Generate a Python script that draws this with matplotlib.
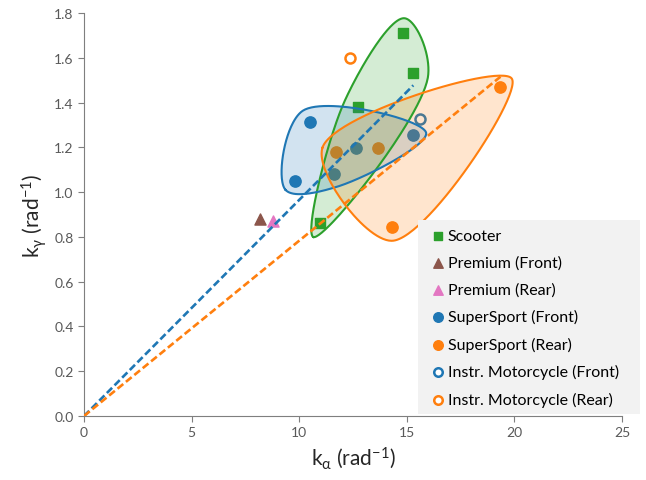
import numpy as np
import matplotlib
matplotlib.use("Agg")
import matplotlib.pyplot as plt
from matplotlib.patches import Rectangle

plt.rcParams['font.family'] = ['Lato', 'DejaVu Sans']
plt.rcParams['mathtext.fontset'] = 'dejavusans'
plt.rcParams['mathtext.default'] = 'regular'

# data (k_alpha, k_gamma)
scooter_x = [14.8, 15.3, 12.75, 10.95]
scooter_y = [1.71, 1.53, 1.38, 0.86]
prem_front_x = [8.2]
prem_front_y = [0.88]
prem_rear_x = [8.8]
prem_rear_y = [0.87]
ss_front_x = [10.5, 9.8, 11.6, 12.65, 15.3]
ss_front_y = [1.315, 1.05, 1.08, 1.195, 1.255]
ss_rear_x = [11.7, 13.65, 14.3, 19.35]
ss_rear_y = [1.18, 1.195, 0.845, 1.47]
instr_front_x = [15.6]
instr_front_y = [1.325]
instr_rear_x = [12.35]
instr_rear_y = [1.60]

green = '#2ca02c'
brown = '#8c564b'
pink = '#e377c2'
blue = '#1f77b4'
orange = '#ff7f0e'


def hull(pts):
    pts = sorted(map(tuple, pts))
    def cross(o, a, b):
        return (a[0]-o[0])*(b[1]-o[1]) - (a[1]-o[1])*(b[0]-o[0])
    lower, upper = [], []
    for p in pts:
        while len(lower) >= 2 and cross(lower[-2], lower[-1], p) <= 0:
            lower.pop()
        lower.append(p)
    for p in reversed(pts):
        while len(upper) >= 2 and cross(upper[-2], upper[-1], p) <= 0:
            upper.pop()
        upper.append(p)
    return np.array(lower[:-1] + upper[:-1])


def catmull_rom(pts, n=60, alpha=0.5):
    N = len(pts)
    out = []
    for i in range(N):
        p0, p1, p2, p3 = pts[i-1], pts[i], pts[(i+1) % N], pts[(i+2) % N]
        t0 = 0
        t1 = t0 + np.hypot(*(p1-p0))**alpha
        t2 = t1 + np.hypot(*(p2-p1))**alpha
        t3 = t2 + np.hypot(*(p3-p2))**alpha
        t = np.linspace(t1, t2, n, endpoint=False)[:, None]
        a1 = (t1-t)/(t1-t0)*p0 + (t-t0)/(t1-t0)*p1
        a2 = (t2-t)/(t2-t1)*p1 + (t-t1)/(t2-t1)*p2
        a3 = (t3-t)/(t3-t2)*p2 + (t-t2)/(t3-t2)*p3
        b1 = (t2-t)/(t2-t0)*a1 + (t-t0)/(t2-t0)*a2
        b2 = (t3-t)/(t3-t1)*a2 + (t-t1)/(t3-t1)*a3
        out.append((t2-t)/(t2-t1)*b1 + (t-t1)/(t2-t1)*b2)
    return np.vstack(out)


def blob(ax, xs, ys, r, color, alpha=0.5):
    # smooth closed curve through the group's hull corners pushed outwards
    P = ax.transData.transform(np.column_stack([xs, ys]))
    H = hull(P)
    N = len(H)
    ctrl = []
    for i in range(N):
        v, a, c = H[i], H[i-1], H[(i+1) % N]
        u1 = (v-a)/np.hypot(*(v-a))
        u2 = (v-c)/np.hypot(*(v-c))
        d = u1 + u2
        d = d/np.hypot(*d)
        ctrl.append(v + r*d)
    C = catmull_rom(np.array(ctrl), alpha=alpha)
    C = np.vstack([C, C[:1]])
    D = ax.transData.inverted().transform(C)
    ax.fill(D[:, 0], D[:, 1], color=color, alpha=0.2, lw=0, zorder=4)
    ax.plot(D[:, 0], D[:, 1], color=color, lw=1.5, zorder=5)


def fit_line(ax, xs, ys, color):
    xs = np.array(xs); ys = np.array(ys)
    k = np.sum(xs*ys) / np.sum(xs*xs)
    xe = xs.max()
    ax.plot([0, xe], [0, k*xe], color=color, lw=1.9, ls=(0, (2.8, 1.3)), zorder=6)


fig = plt.figure(figsize=(6.46, 4.81), dpi=100)
ax = fig.add_axes([0.130, 0.133, 0.833, 0.838])
ax.set_xlim(0, 25)
ax.set_ylim(0, 1.8)

ax.scatter(scooter_x, scooter_y, marker='s', s=48, color=green, label='Scooter', zorder=3)
ax.scatter(prem_front_x, prem_front_y, marker='^', s=64, color=brown, label='Premium (Front)', zorder=3)
ax.scatter(prem_rear_x, prem_rear_y, marker='^', s=64, color=pink, label='Premium (Rear)', zorder=3)
ax.scatter(ss_front_x, ss_front_y, marker='o', s=66, color=blue, label='SuperSport (Front)', zorder=3)
ax.scatter(ss_rear_x, ss_rear_y, marker='o', s=66, color=orange, label='SuperSport (Rear)', zorder=3)
ax.scatter(instr_front_x, instr_front_y, marker='o', s=52, facecolor='white', edgecolor=blue,
           linewidths=1.8, label='Instr. Motorcycle (Front)', zorder=3)
ax.scatter(instr_rear_x, instr_rear_y, marker='o', s=52, facecolor='white', edgecolor=orange,
           linewidths=1.8, label='Instr. Motorcycle (Rear)', zorder=3)

fit_line(ax, ss_front_x, ss_front_y, blue)
fit_line(ax, ss_rear_x, ss_rear_y, orange)

blob(ax, scooter_x, scooter_y, 15, green)
blob(ax, ss_front_x, ss_front_y, 13, blue)
blob(ax, ss_rear_x, ss_rear_y, 14, orange)

ax.set_xticks(np.arange(0, 26, 5))
ax.set_yticks(np.arange(0, 1.81, 0.2))
ax.set_yticklabels([f'{v:.1f}' for v in np.arange(0, 1.81, 0.2)])
for sp in ['top', 'right']:
    ax.spines[sp].set_visible(False)
for sp in ['left', 'bottom']:
    ax.spines[sp].set_color('#7f7f7f')
ax.tick_params(colors='#595959', labelsize=10, length=4, width=0.8)
ax.tick_params(axis='both', color='#7f7f7f')

ax.set_xlabel(r'k$_\alpha$ (rad$^{-1}$)', fontsize=15, color='#262626', labelpad=4)
ax.set_ylabel(r'k$_\gamma$ (rad$^{-1}$)', fontsize=15, color='#262626', labelpad=4)

# legend background box sticks out past the axes on the right
ax.add_patch(Rectangle((0.621, 0.005), 0.412, 0.481, transform=ax.transAxes,
                       facecolor='#f2f2f2', edgecolor='none', clip_on=False, zorder=9))
leg = ax.legend(loc='center', bbox_to_anchor=(0.8205, 0.243), borderaxespad=0, fontsize=11.5,
                frameon=False, markerscale=0.85, handlelength=0.7, handletextpad=0.3,
                labelspacing=0.78, borderpad=0, scatterpoints=1)
leg.set_zorder(10)

fig.savefig('out.png', dpi=100)
